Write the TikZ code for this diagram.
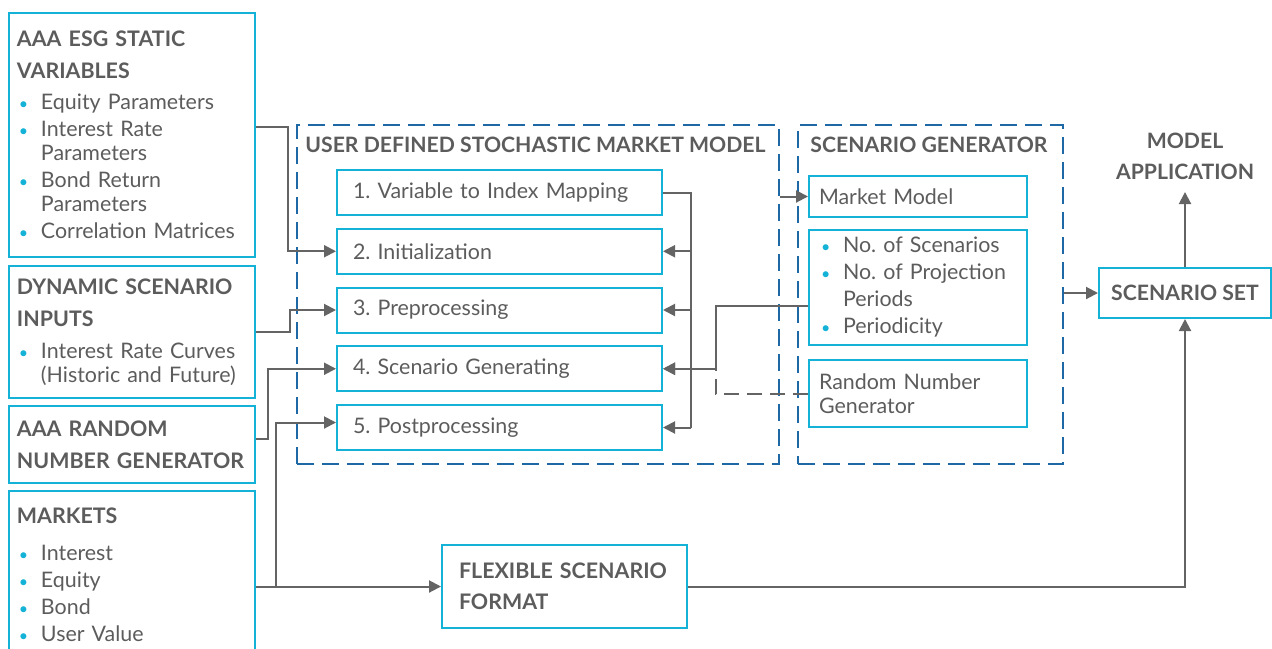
\documentclass[tikz,border=0pt]{standalone}
\usepackage{fontspec}
\setmainfont{Lato}
\usetikzlibrary{positioning, arrows.meta, calc}

\definecolor{esgcyan}{RGB}{20,178,214}
\definecolor{esgblue}{RGB}{30,105,165}
\definecolor{esggray}{RGB}{92,92,92}
\definecolor{linegray}{RGB}{100,100,100}

\newcommand{\hd}[1]{{\bfseries #1}}
\newcommand{\bul}{\makebox[12pt][l]{\hspace{1pt}\textcolor{esgcyan}{\scalebox{0.75}{\textbullet}}}}
\newcommand{\ind}{\hspace*{12pt}}
\frenchspacing

\begin{document}
\begin{tikzpicture}[x=0.5pt, y=-0.5pt,
    every node/.style={text=esggray, font=\fontsize{10.7}{12}\selectfont},
    cbox/.style={draw=esgcyan, line width=1pt, align=left, anchor=north west, inner ysep=0pt},
    inbox/.style={cbox, inner xsep=4pt, text width=115pt},
    stepbox/.style={cbox, inner xsep=8pt, text width=146.5pt, minimum height=22.5pt},
    genbox/.style={cbox, inner xsep=5pt, text width=99pt},
    dbox/.style={draw=esgblue, line width=1pt, dash pattern=on 8.5pt off 4pt, anchor=north west,
      minimum width=241pt, minimum height=169.5pt, inner sep=0pt},
    hdtext/.style={font=\fontsize{10.6}{12}\selectfont\bfseries, inner sep=0pt},
    conn/.style={draw=linegray, line width=1pt},
    arr/.style={conn, -{Triangle[length=6pt,width=6pt]}}
  ]
  \useasboundingbox (0,0) rectangle (1272,648);

  % inputs on the left
  \node[inbox, minimum height=122pt] (static) at (8,12)
    {\hd{AAA ESG STATIC}\\[4pt]\hd{VARIABLES}\\[3.5pt]\bul Equity Parameters\\[1.5pt]\bul Interest Rate\\\ind Parameters\\[1.5pt]\bul Bond Return\\\ind Parameters\\[1.5pt]\bul Correlation Matrices};
  \node[inbox, minimum height=66pt] (dynamic) at (8,265)
    {\hd{DYNAMIC SCENARIO}\\[4pt]\hd{INPUTS}\\[4pt]\bul Interest Rate Curves\\\ind (Historic and Future)};
  \node[inbox, minimum height=38.5pt] (rngin) at (8,405)
    {\hd{AAA RANDOM}\\[4pt]\hd{NUMBER GENERATOR}};
  \node[inbox, minimum height=84pt] (markets) at (8,490)
    {\hd{MARKETS}\\[6.5pt]\bul Interest\\[1.5pt]\bul Equity\\[1.5pt]\bul Bond\\[1.5pt]\bul User Value};

  % market model block
  \node[dbox] (usm) at (296,124) {};
  \node[hdtext, anchor=west] (usmtitle) at ($(usm.north west)+(4.5pt,-10.5pt)$) {USER DEFINED STOCHASTIC MARKET MODEL};
  \foreach \i/\txt in {1/{1. Variable to Index Mapping},2/{2. Initialization},3/{3. Preprocessing},4/{4. Scenario Generating},5/{5. Postprocessing}}
    \node[stepbox] (s\i) at (336,{169+58.75*(\i-1)}) {\txt};

  % generator block
  \node[dbox, minimum width=132.5pt] (sg) at (797,124) {};
  \node[hdtext, anchor=west] (sgtitle) at ($(sg.north west)+(6.5pt,-10.5pt)$) {SCENARIO GENERATOR};
  \node[genbox, minimum height=20.5pt] (mkt) at (808,175) {Market Model};
  \node[genbox, minimum height=57.5pt, font=\fontsize{10.7}{13.5}\selectfont] (par) at (808,229)
    {\bul No. of Scenarios\\\bul No. of Projection\\\ind Periods\\\bul Periodicity};
  \node[genbox, minimum height=33.5pt] (rng) at (808,359) {Random Number\\Generator};

  % outputs
  \node[cbox, hdtext, align=center, minimum width=86pt, minimum height=25pt] (scenset) at (1098,267) {SCENARIO SET};
  \node[hdtext, align=center, anchor=south, inner ysep=6pt] (app) at (1185,192) {MODEL\\[3.5pt]APPLICATION};
  \node[cbox, inner xsep=8.5pt, text width=105.5pt, minimum height=41.5pt] (fsf) at (441,544)
    {\hd{FLEXIBLE SCENARIO}\\[3.5pt]\hd{FORMAT}};

  % connectors
  \draw[arr] ([yshift=4pt]static.east) -- ++(16pt,0) |- (s2.west);
  \draw[arr] (dynamic.east) -- ++(17pt,0) |- (s3.west);
  \draw[arr] ([yshift=2.75pt]rngin.east) -- ++(6pt,0) |- (s4.west);
  \draw[arr] (markets.east |- fsf.west) -- (fsf.west);
  \draw[arr] (markets.east |- fsf.west) -- ++(10pt,0) |- ([yshift=2.5pt]s5.west);
  \draw[conn] (s1.east) -- ++(14pt,0) coordinate (bus) -- (bus |- s5.east);
  \foreach \i in {2,...,5}
    \draw[arr] (bus |- s\i.east) -- (s\i.east);
  \draw[arr] (usm.east |- mkt.west) -- (mkt.west);
  \coordinate (jn) at ($(s4.east)+(26.5pt,0)$);
  \draw[conn] ([yshift=-9.25pt]par.west) -| (jn);
  \draw[arr] (jn) -- (s4.east);
  \draw[conn, dash pattern=on 7.5pt off 4pt] (rng.west) -| (jn);
  \draw[arr] (sg.east |- scenset.west) -- (scenset.west);
  \draw[arr] (scenset.north) -- (app.south);
  \draw[arr] (fsf.east) -| (scenset.south);
\end{tikzpicture}
\end{document}
